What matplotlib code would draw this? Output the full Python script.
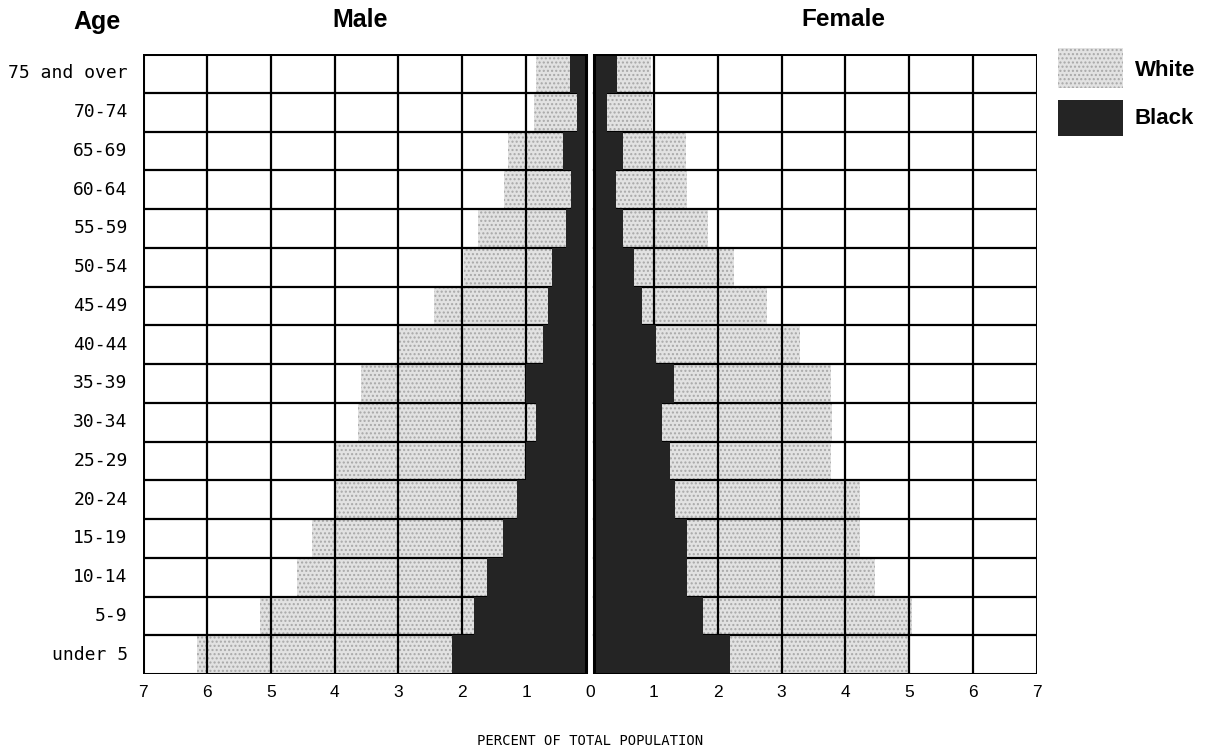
import matplotlib
matplotlib.use('Agg')
import matplotlib.pyplot as plt
from matplotlib.patches import Rectangle

# age groups, bottom row first
ages = ['under 5', '5-9', '10-14', '15-19', '20-24', '25-29', '30-34', '35-39',
        '40-44', '45-49', '50-54', '55-59', '60-64', '65-69', '70-74', '75 and over']

# percent of total population
male_white = [6.15, 5.17, 4.59, 4.35, 3.98, 3.98, 3.63, 3.58,
              3.00, 2.45, 1.97, 1.76, 1.34, 1.28, 0.87, 0.85]
male_black = [2.16, 1.81, 1.61, 1.37, 1.14, 1.01, 0.85, 1.00,
              0.73, 0.66, 0.59, 0.38, 0.30, 0.43, 0.21, 0.31]
female_white = [4.98, 5.05, 4.46, 4.23, 4.23, 3.78, 3.79, 3.77,
                3.29, 2.77, 2.25, 1.85, 1.52, 1.50, 0.97, 0.96]
female_black = [2.19, 1.77, 1.52, 1.52, 1.33, 1.25, 1.13, 1.32,
                1.03, 0.82, 0.69, 0.51, 0.41, 0.52, 0.26, 0.43]

tick_vals = [-7, -6, -5, -4, -3, -2, -1, 0, 1, 2, 3, 4, 5, 6, 7]
tick_text = ['7', '6', '5', '4', '3', '2', '1', '0', '1', '2', '3', '4', '5', '6', '7']

GAP = 0.07        # half of the white gap in the middle
XMAX = 7
GRAY = '#e2e2e2'
DOTS = '#a8a8a8'
DARK = '#242424'
W, H = 1224, 753

fig = plt.figure(figsize=(W / 100, H / 100), dpi=100)
ax = fig.add_axes([143 / W, 1 - 674 / H, 894 / W, 620 / H])
ax.set_xlim(-XMAX, XMAX)
ax.set_ylim(0, len(ages))
for s in ax.spines.values():
    s.set_visible(False)

n = len(ages)
for i in range(n):
    # white population (stippled gray)
    ax.add_patch(Rectangle((-male_white[i], i), male_white[i] - GAP, 1,
                           facecolor=GRAY, edgecolor=DOTS, lw=0, hatch='....', zorder=1))
    ax.add_patch(Rectangle((GAP, i), female_white[i] - GAP, 1,
                           facecolor=GRAY, edgecolor=DOTS, lw=0, hatch='....', zorder=1))
    # black population
    ax.add_patch(Rectangle((-male_black[i], i), male_black[i] - GAP, 1,
                           facecolor=DARK, lw=0, zorder=3))
    ax.add_patch(Rectangle((GAP, i), female_black[i] - GAP, 1,
                           facecolor=DARK, lw=0, zorder=3))

# grid of one-percent cells
for v in range(1, XMAX):
    ax.plot([-v, -v], [0, n], color='black', lw=1.6, zorder=2)
    ax.plot([v, v], [0, n], color='black', lw=1.6, zorder=2)
for j in range(1, n):
    ax.plot([-XMAX, -GAP], [j, j], color='black', lw=1.6, zorder=2)
    ax.plot([GAP, XMAX], [j, j], color='black', lw=1.6, zorder=2)

# panel outlines
for x0, x1 in [(-XMAX, -GAP), (GAP, XMAX)]:
    ax.add_patch(Rectangle((x0, 0), x1 - x0, n, fill=False, edgecolor='black',
                           lw=2.2, zorder=4))

ax.set_xticks(tick_vals)
ax.set_xticklabels(tick_text, fontsize=12.5, family='Liberation Sans')
ax.tick_params(axis='x', length=0, pad=8)
ax.set_yticks([])

for i, lab in enumerate(ages):
    ax.text(-7.24, i + 0.5, lab, ha='right', va='center', fontsize=13,
            family='DejaVu Sans Mono')

fig.text(97 / W, 1 - 22 / H, 'Age', ha='center', va='center', fontsize=18,
         fontweight='bold', family='Liberation Sans')
fig.text(360 / W, 1 - 20 / H, 'Male', ha='center', va='center', fontsize=18,
         fontweight='bold', family='Liberation Sans')
fig.text(843 / W, 1 - 20 / H, 'Female', ha='center', va='center', fontsize=17.5,
         fontweight='bold', family='Liberation Sans')

# legend swatches
fig.add_artist(Rectangle((1058 / W, 1 - 88 / H), 65 / W, 40 / H, transform=fig.transFigure,
                         facecolor=GRAY, edgecolor=DOTS, lw=0, hatch='....'))
fig.add_artist(Rectangle((1058 / W, 1 - 136 / H), 65 / W, 36 / H, transform=fig.transFigure,
                         facecolor=DARK, lw=0))
fig.text(1135 / W, 1 - 70 / H, 'White', ha='left', va='center', fontsize=16,
         fontweight='bold', family='Liberation Sans')
fig.text(1135 / W, 1 - 118 / H, 'Black', ha='left', va='center', fontsize=16,
         fontweight='bold', family='Liberation Sans')

fig.text(590 / W, 1 - 741 / H, 'PERCENT OF TOTAL POPULATION', ha='center', va='center',
         fontsize=10, family='DejaVu Sans Mono')

fig.savefig('out.png', dpi=100)
